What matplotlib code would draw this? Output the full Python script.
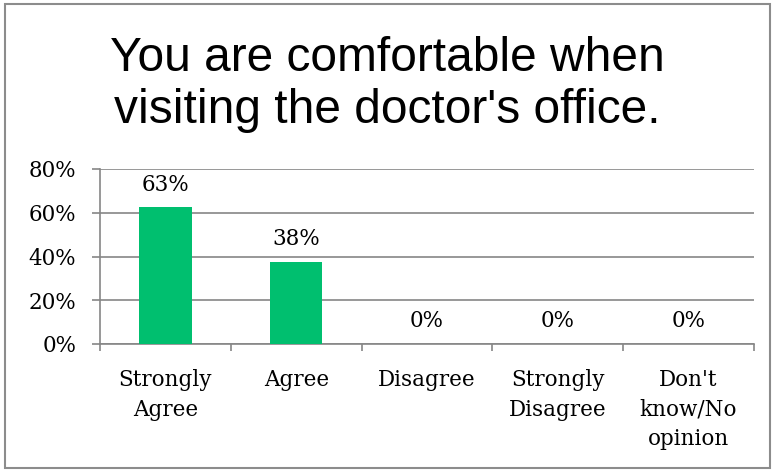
import matplotlib.pyplot as plt
from matplotlib.patches import Rectangle
import numpy as np

categories = ["Strongly\nAgree", "Agree", "Disagree", "Strongly\nDisagree", "Don't\nknow/No\nopinion"]
values = [0.625, 0.375, 0.0, 0.0, 0.0]
labels = ["63%", "38%", "0%", "0%", "0%"]
yticks = [0, 0.2, 0.4, 0.6, 0.8]
ytick_labels = ["0%", "20%", "40%", "60%", "80%"]

grid_col = '#868686'
bar_col = '#00BF6F'
serif = 'DejaVu Serif'
fs = 15.5

fig = plt.figure(figsize=(7.75, 4.72), dpi=100)
fig.patches.append(Rectangle((5 / 775, 4 / 472), 765 / 775, 464 / 472, transform=fig.transFigure,
                             fill=False, edgecolor='#8c8c8c', linewidth=1.5))

ax = fig.add_axes([100 / 775, 1 - 344 / 472, 654 / 775, 175 / 472])
x = np.arange(len(categories))
ax.bar(x, values, width=0.4, color=bar_col, zorder=3)
for xi, v, lab in zip(x, values, labels):
    ax.annotate(lab, (xi, v), xytext=(0, 12), textcoords='offset points',
                ha='center', va='baseline', fontsize=fs, family=serif)

ax.set_xlim(-0.5, len(categories) - 0.5)
ax.set_ylim(0, 0.8)
ax.set_yticks(yticks)
ax.set_yticklabels(ytick_labels, family=serif, fontsize=fs)
ax.yaxis.grid(True, color=grid_col, linewidth=1.2, zorder=0)
ax.set_xticks(np.arange(-0.5, len(categories)), minor=False)
ax.set_xticklabels([])
ax.set_xticks(x, minor=True)
ax.set_xticklabels(categories, minor=True, family=serif, fontsize=fs, linespacing=1.45)
ax.tick_params(axis='x', which='major', length=5, color=grid_col, width=1.2, direction='out')
ax.tick_params(axis='x', which='minor', length=0, pad=18)
ax.tick_params(axis='y', length=6, color=grid_col, width=1.2, pad=11)

for s in ['top', 'right']:
    ax.spines[s].set_visible(False)
ax.spines['left'].set_color(grid_col)
ax.spines['bottom'].set_color(grid_col)
ax.spines['left'].set_linewidth(1.2)
ax.spines['bottom'].set_linewidth(1.2)

fig.text(0.5, 1 - 123 / 472, "You are comfortable when\nvisiting the doctor's office.",
         ha='center', va='baseline', fontsize=34.5, family='Liberation Sans', linespacing=1.2)

fig.savefig('out.png', dpi=100)
